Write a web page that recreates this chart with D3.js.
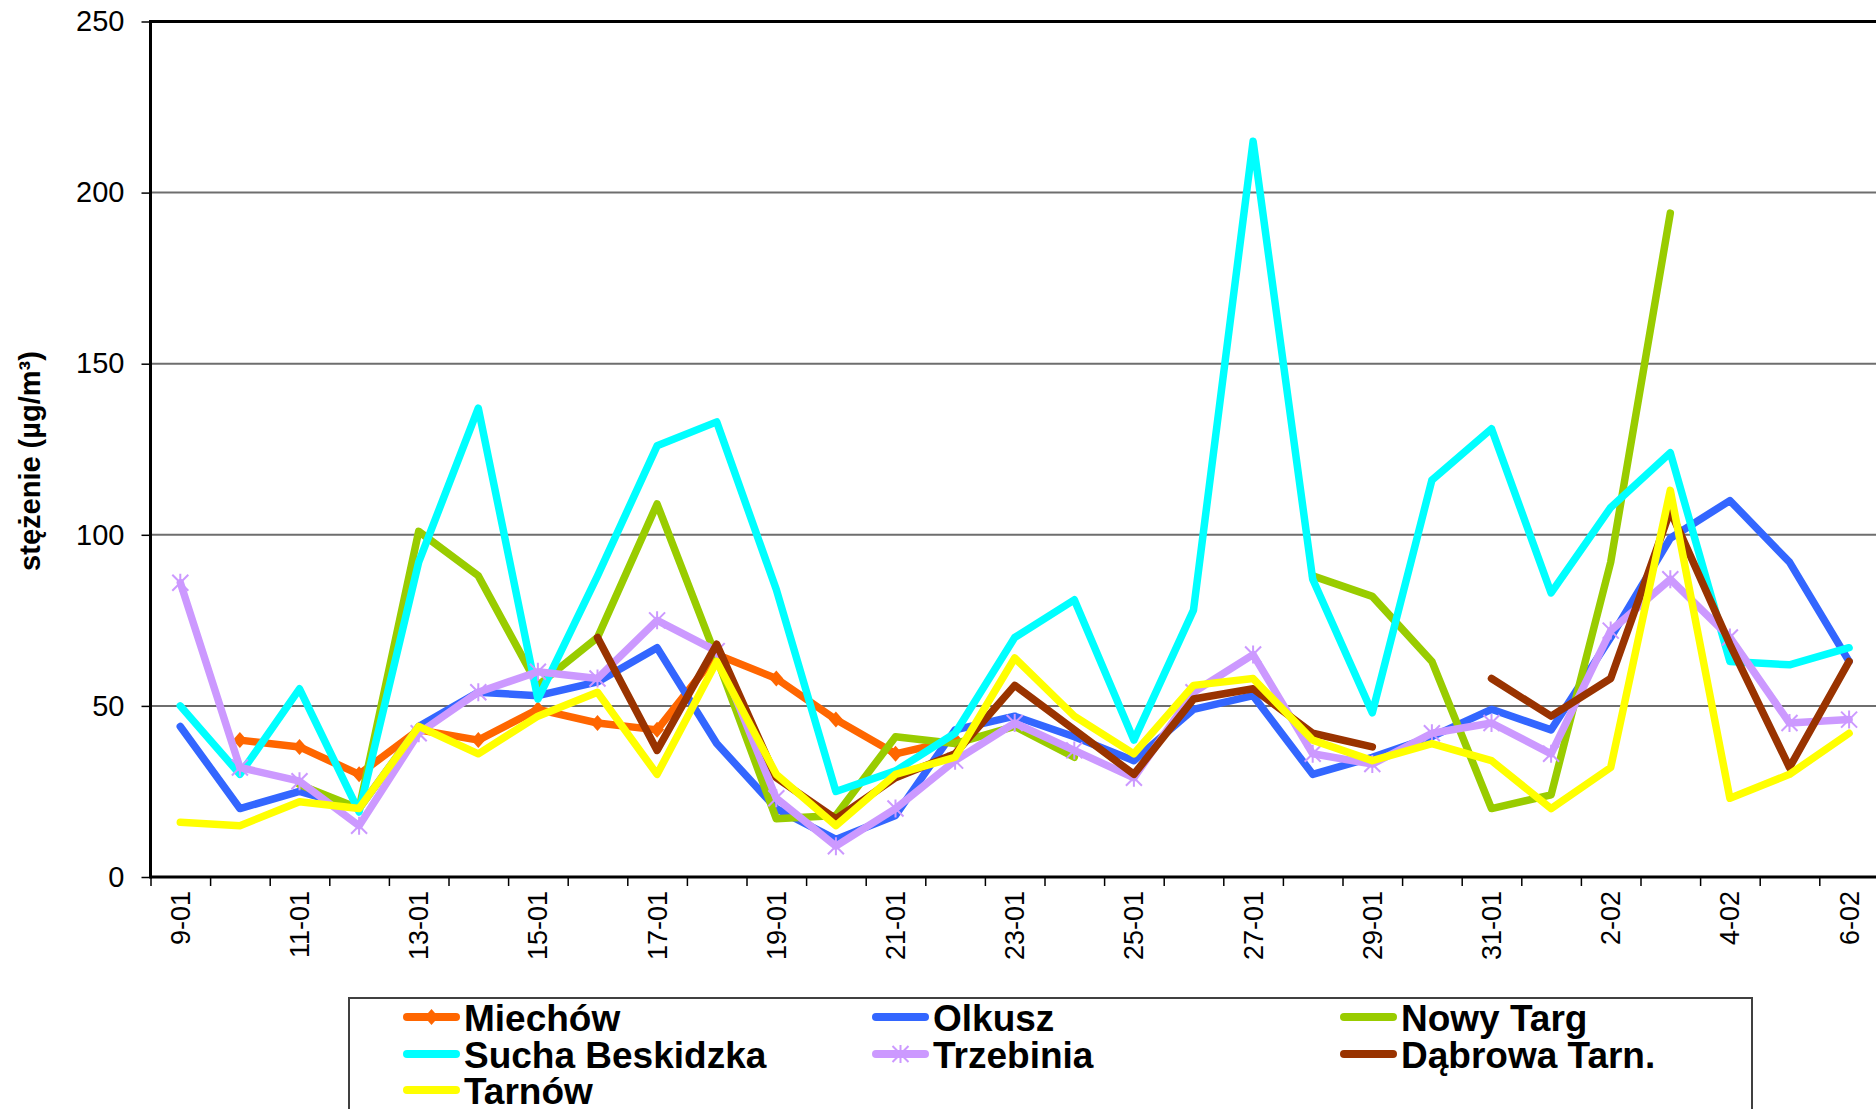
<!DOCTYPE html>
<html>
<head>
<meta charset="utf-8">
<script src="https://d3js.org/d3.v7.min.js"></script>
<style>
    body { margin: 0; background: white; }
    svg { display: block; font-family: "Liberation Sans", Arial, sans-serif; }
</style>
</head>
<body>
<svg width="1876" height="1109"></svg>
<script>
    //days on the x axis
    var days = ["9-01","10-01","11-01","12-01","13-01","14-01","15-01","16-01","17-01","18-01",
                "19-01","20-01","21-01","22-01","23-01","24-01","25-01","26-01","27-01","28-01",
                "29-01","30-01","31-01","1-02","2-02","3-02","4-02","5-02","6-02"];
    //only every second day gets a label
    var dayLabels = ["9-01","11-01","13-01","15-01","17-01","19-01","21-01","23-01",
                     "25-01","27-01","29-01","31-01","2-02","4-02","6-02"];
    var yTicks = [0, 50, 100, 150, 200, 250];

    //values per station (null = no measurement)
    var miechow = [null,40,38,30,43,40,49,45,43,65,58,46,36,40,null,null,null,null,null,null,null,null,null,null,null,null,null,null,null];
    var olkusz = [44,20,25,20,44,54,53,57,67,39,20,11,18,43,47,41,34,49,53,30,35,41,49,43,70,99,110,92,63];
    var nowyTarg = [null,null,27,20,101,88,56,70,109,64,17,18,41,39,44,35,null,null,null,88,82,63,20,24,92,194,null,null,null];
    var sucha = [50,30,55,19,92,137,52,88,126,133,84,25,31,42,70,81,40,78,215,87,48,116,131,83,108,124,63,62,67];
    var trzebinia = [86,32,28,15,42,54,60,58,75,66,23,9,20,34,45,37,29,54,65,36,33,42,45,36,72,87,70,45,46];
    var dabrowa = [null,null,null,null,null,null,null,70,37,68,29,17,29,36,56,43,30,52,55,42,38,null,58,47,58,107,68,32,63];
    var tarnow = [16,15,22,20,44,36,47,54,30,63,30,15,30,35,64,47,36,56,58,40,34,39,34,20,32,113,23,30,42];

    var stations = [
        {name: "Miechów", values: miechow, color: "#FF6600", marker: "diamond"},
        {name: "Olkusz", values: olkusz, color: "#3366FF", marker: null},
        {name: "Nowy Targ", values: nowyTarg, color: "#99CC00", marker: null},
        {name: "Sucha Beskidzka", values: sucha, color: "#00FFFF", marker: null},
        {name: "Trzebinia", values: trzebinia, color: "#CC99FF", marker: "star"},
        {name: "Dąbrowa Tarn.", values: dabrowa, color: "#993300", marker: null},
        {name: "Tarnów", values: tarnow, color: "#FFFF00", marker: null}
    ];

    var svg = d3.select("svg");

    //plot area
    var plotLeft = 150.5, plotTop = 21.5, plotBottom = 877, step = 59.6;
    var plotRight = plotLeft + days.length * step;

    var xs = d3.scaleBand().domain(days).range([plotLeft, plotRight]).paddingInner(0).paddingOuter(0);
    var xi = d3.scaleLinear().domain([0, days.length]).range([plotLeft, plotRight]);
    var ys = d3.scaleLinear().domain([0, 250]).range([plotBottom, plotTop]);
    function cx(i) { return xs(days[i]) + xs.bandwidth() / 2; }

    //horizontal grid lines
    svg.append("g")
       .selectAll("line")
       .data(yTicks.filter(function(d) { return d > 0 && d < 250; }))
       .enter()
       .append("line")
       .attr("x1", plotLeft).attr("x2", plotRight)
       .attr("y1", function(d) { return ys(d); })
       .attr("y2", function(d) { return ys(d); })
       .style("stroke", "#6e6e6e")
       .style("stroke-width", 2);

    //top border of the plot area
    svg.append("line")
       .attr("x1", plotLeft).attr("x2", plotRight)
       .attr("y1", ys(250)).attr("y2", ys(250))
       .style("stroke", "black")
       .style("stroke-width", 3);

    //y axis
    var yAxis = svg.append("g")
       .attr("transform", "translate(" + plotLeft + ",0)")
       .call(d3.axisLeft(ys).tickValues(yTicks).tickSize(9).tickPadding(17));
    yAxis.select(".domain").remove();
    yAxis.selectAll("line").style("stroke", "black").style("stroke-width", 1.5);
    yAxis.selectAll("text").style("font-size", "29px").style("fill", "black")
         .style("font-family", "'Liberation Sans', Arial, sans-serif");

    //x axis tick marks between the days
    var xTickAxis = svg.append("g")
       .attr("transform", "translate(0," + plotBottom + ")")
       .call(d3.axisBottom(xi).tickValues(d3.range(days.length + 1)).tickSize(9).tickFormat(""));
    xTickAxis.select(".domain").remove();
    xTickAxis.selectAll("line").style("stroke", "black").style("stroke-width", 1.5);

    //x axis labels, rotated
    var xLabelAxis = svg.append("g")
       .attr("transform", "translate(0," + plotBottom + ")")
       .call(d3.axisBottom(xs).tickValues(dayLabels).tickSize(0));
    xLabelAxis.select(".domain").remove();
    xLabelAxis.selectAll("text")
       .attr("transform", "rotate(-90)")
       .attr("x", -14)
       .attr("y", 0)
       .attr("dy", "0.35em")
       .style("text-anchor", "end")
       .style("font-size", "27px")
       .style("fill", "black")
       .style("font-family", "'Liberation Sans', Arial, sans-serif");

    //axis lines
    svg.append("line")
       .attr("x1", plotLeft).attr("x2", plotLeft)
       .attr("y1", plotTop - 1.5).attr("y2", plotBottom + 1.5)
       .style("stroke", "black").style("stroke-width", 3);
    svg.append("line")
       .attr("x1", plotLeft).attr("x2", plotRight)
       .attr("y1", plotBottom).attr("y2", plotBottom)
       .style("stroke", "black").style("stroke-width", 3);

    //y axis title
    svg.append("text")
       .attr("transform", "translate(" + 30 + "," + 461 + ") rotate(-90)")
       .attr("dy", "0.35em")
       .style("text-anchor", "middle")
       .style("font-size", "29px")
       .style("font-weight", "bold")
       .style("fill", "black")
       .text("stężenie (µg/m³)");

    //marker drawing
    function drawMarker(g, type, color, x, y) {
        if (type === "diamond") {
            g.append("path")
             .attr("d", "M" + x + "," + (y - 8) + "L" + (x + 7) + "," + y + "L" + x + "," + (y + 8) + "L" + (x - 7) + "," + y + "Z")
             .style("fill", color);
        } else if (type === "star") {
            var r = 8;
            var p = "M" + (x - r) + "," + (y - r) + "L" + (x + r) + "," + (y + r)
                  + "M" + (x + r) + "," + (y - r) + "L" + (x - r) + "," + (y + r)
                  + "M" + x + "," + (y - r - 1) + "L" + x + "," + (y + r + 1);
            g.append("path").attr("d", p)
             .style("stroke", color).style("stroke-width", 2).style("fill", "none");
        }
    }

    //the lines
    var line = d3.line()
        .defined(function(d) { return d != null; })
        .x(function(d, i) { return cx(i); })
        .y(function(d) { return ys(d); });

    var plot = svg.append("g");
    stations.forEach(function(s) {
        var g = plot.append("g");
        g.append("path")
         .datum(s.values)
         .attr("d", line)
         .style("fill", "none")
         .style("stroke", s.color)
         .style("stroke-width", 7.5)
         .style("stroke-linejoin", "round")
         .style("stroke-linecap", "round");
        if (s.marker) {
            s.values.forEach(function(v, i) {
                if (v != null) drawMarker(g, s.marker, s.color, cx(i), ys(v));
            });
        }
    });

    //legend box
    svg.append("rect")
       .attr("x", 349).attr("y", 998)
       .attr("width", 1403).attr("height", 140)
       .style("fill", "white")
       .style("stroke", "#404040")
       .style("stroke-width", 2);

    var colX = [404, 873, 1341];
    var rowY = [1017, 1054, 1090];
    var legend = svg.append("g");
    stations.forEach(function(s, i) {
        var lx = colX[i % 3], ly = rowY[Math.floor(i / 3)];
        var item = legend.append("g");
        item.append("line")
            .attr("x1", lx + 3).attr("x2", lx + 52)
            .attr("y1", ly).attr("y2", ly)
            .style("stroke", s.color)
            .style("stroke-width", 8)
            .style("stroke-linecap", "round");
        if (s.marker) drawMarker(item, s.marker, s.color, lx + 27.5, ly);
        item.append("text")
            .attr("x", lx + 60)
            .attr("y", ly + 14)
            .style("font-size", "37px")
            .style("font-weight", "bold")
            .style("fill", "black")
            .text(s.name);
    });
</script>
</body>
</html>
